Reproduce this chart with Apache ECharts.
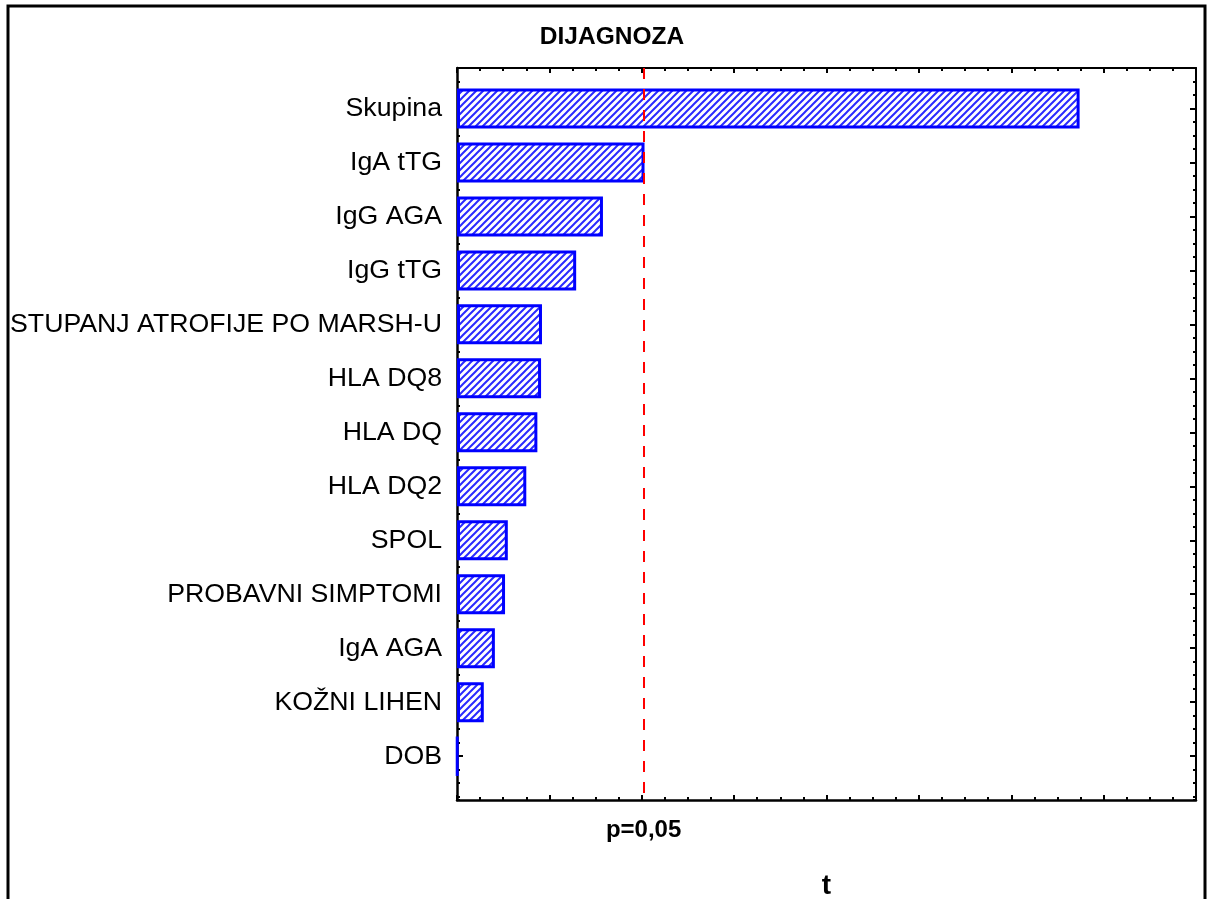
<!DOCTYPE html>
<html>
<head>
<meta charset="utf-8">
<script src="https://cdn.jsdelivr.net/npm/echarts@6/dist/echarts.min.js"></script>
<style>html,body{margin:0;padding:0;background:#fff;}#chart{width:1208px;height:899px;}</style>
</head>
<body>
<div id="chart"></div>
<script>
// ---- data ----
const categories = ['Skupina','IgA tTG','IgG AGA','IgG tTG','STUPANJ ATROFIJE PO MARSH-U','HLA DQ8','HLA DQ','HLA DQ2','SPOL','PROBAVNI SIMPTOMI','IgA AGA','KOŽNI LIHEN','DOB'];
const tValues = [6.74, 2.03, 1.58, 1.29, 0.92, 0.91, 0.87, 0.75, 0.55, 0.52, 0.41, 0.29, 0.005];
const criticalT = 2.02;
const criticalLabel = 'p=0,05';
const titleText = 'DIJAGNOZA';
const axisName = 't';

// ---- hatch pattern ----
function hatch() {
  const s = 7;
  const c = document.createElement('canvas');
  c.width = s; c.height = s;
  const g = c.getContext('2d');
  g.fillStyle = '#ffffff';
  g.fillRect(0, 0, s, s);
  g.strokeStyle = '#2a2aff';
  g.lineWidth = 2;
  g.beginPath();
  g.moveTo(0, s); g.lineTo(s, 0);
  g.moveTo(-1, 1); g.lineTo(1, -1);
  g.moveTo(s - 1, s + 1); g.lineTo(s + 1, s - 1);
  g.stroke();
  return c;
}

const FONT = "'Liberation Sans', Arial, sans-serif";
const L = 457, R = 12, TOP = 68, H = 732;
const Q = H / 54.25;
const line = (w) => ({show: true, onZero: false, lineStyle: {color: '#000', width: w}});
const chart = echarts.init(document.getElementById('chart'), null, {renderer: 'canvas'});
chart.setOption({
  animation: false,
  backgroundColor: '#fff',
  title: {
    text: titleText, left: 607, top: 20, textAlign: 'center',
    textStyle: {fontFamily: FONT, fontWeight: 'bold', fontSize: 24.5, color: '#000'}
  },
  graphic: [{
    type: 'rect', shape: {x: 8, y: 6, width: 1197, height: 910},
    style: {fill: null, stroke: '#000', lineWidth: 3}, silent: true, z: 100
  }],
  grid: [
    {left: L, right: R, top: TOP + Q, height: 52 * Q, outerBoundsMode: 'none', containLabel: false},
    {left: L, right: R, top: TOP, height: H, outerBoundsMode: 'none', containLabel: false}
  ],
  xAxis: [
    {gridIndex: 0, type: 'value', min: 0, max: 8, show: false},
    {gridIndex: 1, type: 'value', min: 0, max: 8, interval: 1, position: 'bottom',
     axisLine: line(2.5),
     axisTick: {show: true, inside: true, length: 5, lineStyle: {color: '#000', width: 2}},
     minorTick: {show: true, splitNumber: 4, length: 3, lineStyle: {color: '#000', width: 2}},
     axisLabel: {show: false}, splitLine: {show: false},
     name: axisName, nameLocation: 'middle', nameGap: 72,
     nameTextStyle: {fontFamily: FONT, fontWeight: 'bold', fontSize: 28, color: '#000'}},
    {gridIndex: 1, type: 'value', min: 0, max: 8, interval: 1, position: 'top',
     axisLine: line(2),
     axisTick: {show: true, inside: true, length: 5, lineStyle: {color: '#000', width: 2}},
     minorTick: {show: true, splitNumber: 4, length: 3, lineStyle: {color: '#000', width: 2}},
     axisLabel: {show: false}, splitLine: {show: false}}
  ],
  yAxis: [
    {gridIndex: 0, type: 'category', data: categories, inverse: true, position: 'left',
     axisLine: {show: false},
     axisTick: {show: true, inside: true, alignWithLabel: true, length: 6, lineStyle: {color: '#000', width: 2}},
     axisLabel: {fontFamily: FONT, fontSize: 26.7, color: '#000', margin: 15}},
    {gridIndex: 0, type: 'category', data: categories, inverse: true, position: 'right',
     axisLine: {show: false},
     axisTick: {show: true, inside: true, alignWithLabel: true, length: 6, lineStyle: {color: '#000', width: 2}},
     axisLabel: {show: false}},
    {gridIndex: 1, type: 'value', min: 0, max: 54.25, interval: 1, inverse: true, position: 'left',
     axisLine: line(2.5),
     axisTick: {show: true, inside: true, length: 3, lineStyle: {color: '#000', width: 2}},
     axisLabel: {show: false}, splitLine: {show: false}},
    {gridIndex: 1, type: 'value', min: 0, max: 54.25, interval: 1, inverse: true, position: 'right',
     axisLine: line(2),
     axisTick: {show: true, inside: true, length: 3, lineStyle: {color: '#000', width: 2}},
     axisLabel: {show: false}, splitLine: {show: false}}
  ],
  series: [
    {type: 'bar', xAxisIndex: 0, yAxisIndex: 0, data: tValues, barWidth: 40, z: 3,
     itemStyle: {color: {image: hatch(), repeat: 'repeat'}, borderColor: '#0000ff', borderWidth: 3}},
    {type: 'scatter', xAxisIndex: 1, yAxisIndex: 2, data: [], z: 5,
     markLine: {silent: true, symbol: 'none', animation: false,
       lineStyle: {color: '#ff0000', type: [11, 10], width: 2},
       label: {show: true, position: 'end', formatter: criticalLabel, distance: 18,
               fontFamily: FONT, fontWeight: 'bold', fontSize: 24, color: '#000'},
       data: [{xAxis: criticalT}]}}
  ]
});
</script>
</body>
</html>
